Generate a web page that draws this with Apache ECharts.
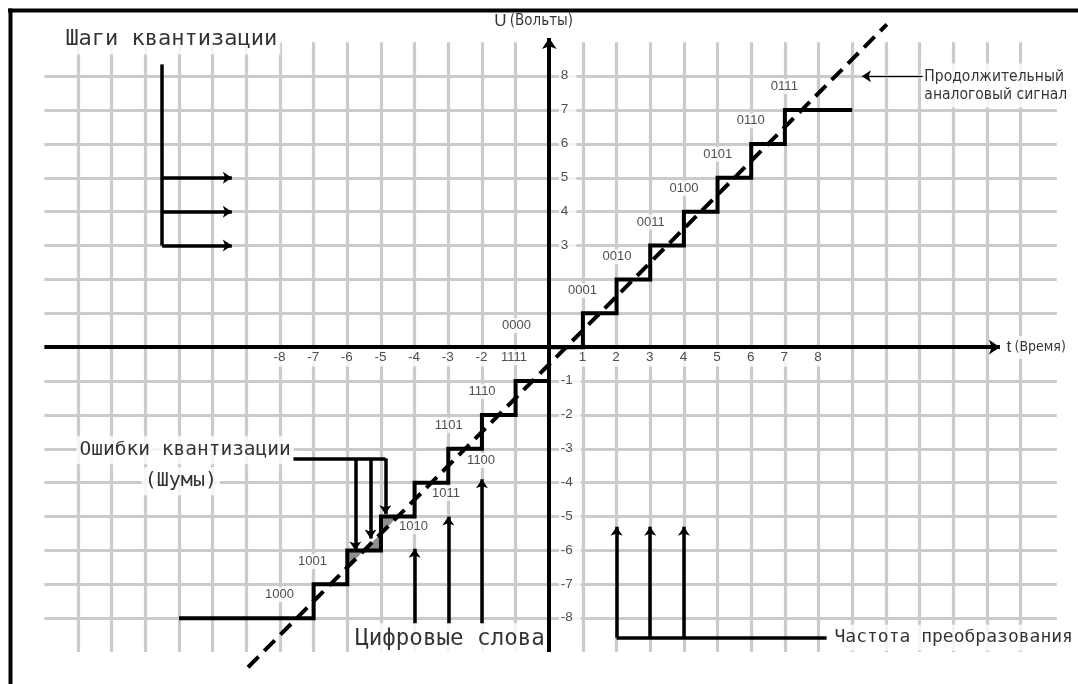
<!DOCTYPE html>
<html>
<head>
<meta charset="utf-8">
<script src="https://cdn.jsdelivr.net/npm/echarts@6/dist/echarts.min.js"></script>
<style>html,body{margin:0;padding:0;background:#fff}#c{width:1078px;height:684px}</style>
</head>
<body>
<div id="c"></div>
<script>
// ---------------- data ----------------
const gridTimes = [-14,-13,-12,-11,-10,-9,-8,-7,-6,-5,-4,-3,-2,-1,1,2,3,4,5,6,7,8,9,10,11,12,13,14];
const gridVolts = [-8,-7,-6,-5,-4,-3,-2,-1,1,2,3,4,5,6,7,8];
const gridTimeSpan = [-15, 15.08];
const gridVoltSpan = [-9, 9];

const timeTicks = [-8,-7,-6,-5,-4,-3,-2,1,2,3,4,5,6,7,8];
const voltTicks = [8,7,6,5,4,3,-1,-2,-3,-4,-5,-6,-7,-8];

const stairPosT = [0,1,2,3,4,5,6,7,9];
const stairPosU = [0,1,2,3,4,5,6,7,7];
const stairNegT = [0,-1,-2,-3,-4,-5,-6,-7,-11];
const stairNegU = [-1,-2,-3,-4,-5,-6,-7,-8,-8];

const signalT = [-8.95, 10.03];
const signalU = [-9.45, 9.53];

const codeWords = ['0000','0001','0010','0011','0100','0101','0110','0111',
                   '1111','1110','1101','1100','1011','1010','1001','1000'];
const codeT = [-0.96, 1.0, 2.03, 3.03, 4.02, 5.02, 6.0, 7.0,
               -1.03, -1.98, -2.97, -2.01, -3.05, -4.02, -7.02, -8.0];
const codeU = [0.63, 1.66, 2.66, 3.68, 4.68, 5.68, 6.67, 7.68,
               -0.32, -1.32, -2.32, -3.36, -4.33, -5.31, -6.34, -7.32];

const errorTriangles = [
  [[-6,-6],[-6,-6.5],[-5.5,-6]],
  [[-5.5,-6],[-5,-6],[-5,-5.5]],
  [[-5,-5],[-5,-5.5],[-4.5,-5]]
];

const axisTime = [[-15,0],[13.39,0]];
const axisVolt = [[0,-9],[0,9.13]];

const stepBracket = [[-11.5,8.35],[-11.5,3]];
const stepArrowU = [5,4,3];
const stepArrowT = [-11.5,-9.43];

const noiseLeader = [[-7.6,-3.28],[-4.87,-3.28]];
const noiseArrowT = [-5.76,-5.31,-4.87];
const noiseArrowFromU = -3.28;
const noiseArrowToU = [-6.0,-5.65,-4.93];

const wordArrowT = [-4,-3,-2];
const wordArrowFromU = -8.15;
const wordArrowToU = [-5.95,-5.0,-3.9];

const rateBase = [[2,-8.58],[8.24,-8.58]];
const rateArrowT = [2,3,4];
const rateArrowFromU = -8.58;
const rateArrowToU = -5.3;

const signalPointer = [[11.1,8],[9.29,8]];

const annotationTexts = ['Шаги квантизации','Ошибки квантизации','(Шумы)','Цифровые слова','Частота преобразования','Продолжительный\nаналоговый сигнал'];
const annotationT = [-14.45,-14.03,-10.93,-5.84,8.4,11.07];
const annotationU = [9.07,-3.06,-3.97,-8.62,-8.59,7.71];

const axisTitleT = [-1.62, 13.54];
const axisTitleU = [9.6, -0.02];

// ---------------- styles ----------------
const NARROW = "'DejaVu Sans Condensed', 'Liberation Sans', sans-serif";
const annotationFont = [
  {fontFamily:'DejaVu Sans Mono', fontSize:22, align:'left'},
  {fontFamily:'DejaVu Sans Mono', fontSize:19.5, align:'left'},
  {fontFamily:'DejaVu Sans Mono', fontSize:20, align:'center'},
  {fontFamily:'DejaVu Sans Mono', fontSize:22.5, align:'left'},
  {fontFamily:'DejaVu Sans Mono', fontSize:18, align:'left'},
  {fontFamily:NARROW, fontSize:15.5, align:'left', lineHeight:18}
];

const chart = echarts.init(document.getElementById('c'), null, {renderer:'canvas'});

const gridSegs = [];
gridTimes.forEach(t => gridSegs.push({coords:[[t,gridVoltSpan[0]],[t,gridVoltSpan[1]]]}));
gridVolts.forEach(u => gridSegs.push({coords:[[gridTimeSpan[0],u],[gridTimeSpan[1],u]]}));

const plainSegs = [
  {coords: stepBracket},
  {coords: noiseLeader},
  {coords: rateBase}
];
const arrowSegs = [];
stepArrowU.forEach(u => arrowSegs.push({coords:[[stepArrowT[0],u],[stepArrowT[1],u]]}));
noiseArrowT.forEach((t,i) => arrowSegs.push({coords:[[t,noiseArrowFromU],[t,noiseArrowToU[i]]]}));
wordArrowT.forEach((t,i) => arrowSegs.push({coords:[[t,wordArrowFromU],[t,wordArrowToU[i]]]}));
rateArrowT.forEach(t => arrowSegs.push({coords:[[t,rateArrowFromU],[t,rateArrowToU]]}));

function textSeries(z, items) {
  return {
    type:'scatter', z: z, silent:true, symbolSize:1,
    itemStyle:{color:'rgba(0,0,0,0)'},
    animation:false,
    data: items
  };
}

const codeItems = codeWords.map((w,i) => ({
  value:[codeT[i], codeU[i]],
  label:{show:true, position:[0,0], align:'center', verticalAlign:'middle', formatter:w,
         fontFamily:'Liberation Sans', fontSize:13, color:'#222',
         backgroundColor:'#fff', padding:[1,1]}
}));
const timeTickItems = timeTicks.map(t => ({
  value:[t, -0.32],
  label:{show:true, position:[0,0], align:'center', verticalAlign:'middle', formatter:String(t),
         fontFamily:'Liberation Sans', fontSize:13.5, color:'#222',
         backgroundColor:'#fff', padding:[2,3]}
}));
const voltTickItems = voltTicks.map(u => ({
  value:[0.3, u],
  label:{show:true, position:[0,0], align:'left', verticalAlign:'middle', formatter:String(u),
         fontFamily:'Liberation Sans', fontSize:13.5, color:'#222',
         backgroundColor:'#fff', padding:[3,8,3,2]}
}));
const annotationItems = annotationTexts.map((s,i) => ({
  value:[annotationT[i], annotationU[i]],
  label:Object.assign({show:true, position:[0,0], verticalAlign:'middle', formatter:s,
         color:'#000', backgroundColor:'#fff', padding:[4,3]}, annotationFont[i])
}));
const titleItems = [
  {value:[axisTitleT[0], axisTitleU[0]],
   label:{show:true, position:[0,0], align:'left', verticalAlign:'middle',
          formatter:'{a|U} {b|(Вольты)}',
          rich:{a:{fontFamily:'Liberation Sans', fontSize:17, color:'#000'},
                b:{fontFamily:NARROW, fontSize:15, color:'#000'}}}},
  {value:[axisTitleT[1], axisTitleU[1]],
   label:{show:true, position:[0,0], align:'left', verticalAlign:'middle',
          backgroundColor:'#fff', padding:[3,2],
          formatter:'{a|t} {b|(Время)}',
          rich:{a:{fontFamily:'Liberation Sans', fontSize:17, color:'#000'},
                b:{fontFamily:NARROW, fontSize:14, color:'#000'}}}}
];

const option = {
  animation:false,
  backgroundColor:'#fff',
  grid:{left:0, right:0, top:0, bottom:0},
  xAxis:{type:'value', min:-16.318, max:15.709, show:false},
  yAxis:{type:'value', min:-9.944, max:10.251, show:false},
  graphic:[
    {type:'line', shape:{x1:8, y1:10.5, x2:1078, y2:10.5}, style:{stroke:'#000', lineWidth:4}, z:100},
    {type:'line', shape:{x1:10.5, y1:8.5, x2:10.5, y2:684}, style:{stroke:'#000', lineWidth:4}, z:100}
  ],
  series:[
    {type:'lines', coordinateSystem:'cartesian2d', z:1, silent:true,
     lineStyle:{color:'#cbcbcb', width:3.2, opacity:1}, data:gridSegs},
    {type:'custom', coordinateSystem:'cartesian2d', z:2, silent:true, clip:false,
     data: errorTriangles.map(tri => tri[0]),
     renderItem:(params, api) => {
       const tri = errorTriangles[params.dataIndex];
       return {type:'polygon', shape:{points: tri.map(p => api.coord(p))}, style:{fill:'#8f8f8f'}};
     }},
    textSeries(3, codeItems),
    textSeries(3, timeTickItems),
    textSeries(3, voltTickItems),
    textSeries(3, annotationItems),
    textSeries(3, titleItems),
    {type:'line', z:5, silent:true, showSymbol:false, clip:false,
     data: signalT.map((t,i) => [t, signalU[i]]),
     lineStyle:{color:'#000', width:4, type:[15,8], cap:'butt'}},
    {type:'line', z:6, silent:true, showSymbol:false, step:'end', clip:false,
     data: stairPosT.map((t,i) => [t, stairPosU[i]]),
     lineStyle:{color:'#000', width:4, join:'miter'}},
    {type:'line', z:6, silent:true, showSymbol:false, step:'end', clip:false,
     data: stairNegT.map((t,i) => [t, stairNegU[i]]),
     lineStyle:{color:'#000', width:4, join:'miter'}},
    {type:'lines', coordinateSystem:'cartesian2d', z:7, silent:true,
     symbol:['none','arrow'], symbolSize:11,
     lineStyle:{color:'#000', width:4, opacity:1},
     data:[{coords:axisTime},{coords:axisVolt}]},
    {type:'lines', coordinateSystem:'cartesian2d', z:7, silent:true,
     lineStyle:{color:'#000', width:3.5, opacity:1}, data:plainSegs},
    {type:'lines', coordinateSystem:'cartesian2d', z:7, silent:true,
     symbol:['none','arrow'], symbolSize:9,
     lineStyle:{color:'#000', width:3.5, opacity:1}, data:arrowSegs},
    {type:'lines', coordinateSystem:'cartesian2d', z:7, silent:true,
     symbol:['none','arrow'], symbolSize:9,
     lineStyle:{color:'#000', width:1.2, opacity:1}, data:[{coords:signalPointer}]}
  ]
};
chart.setOption(option);
</script>
</body>
</html>
